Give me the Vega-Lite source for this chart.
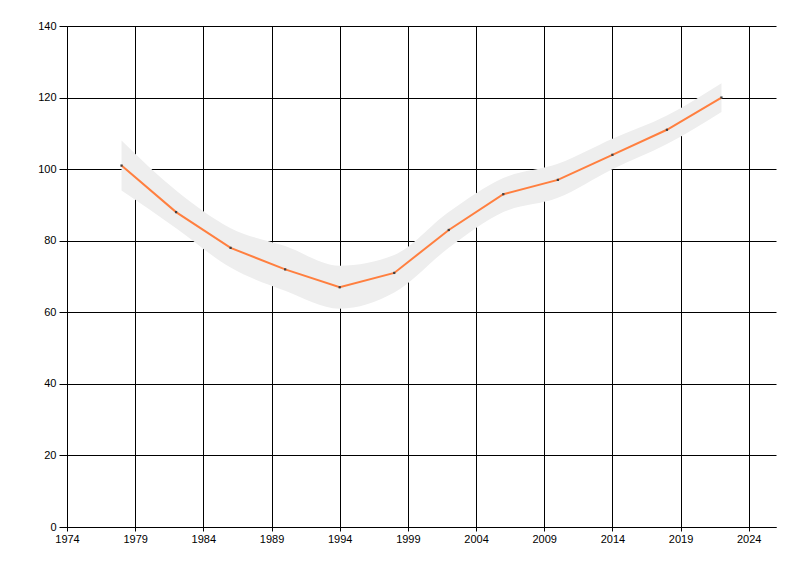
{
  "$schema": "https://vega.github.io/schema/vega-lite/v6.json",
  "autosize": {"type": "none"},
  "padding": {"left": 67, "top": 26, "right": 24, "bottom": 49},
  "width": 709,
  "height": 501,
  "background": "white",
  "config": {
    "view": {"stroke": null},
    "axis": {
      "labelFont": "Liberation Sans",
      "labelFontSize": 11,
      "labelColor": "#000000",
      "domainColor": "#000000",
      "tickColor": "#000000",
      "gridColor": "#000000",
      "gridOpacity": 1,
      "gridWidth": 1,
      "domainWidth": 1,
      "tickWidth": 1,
      "title": null
    }
  },
  "data": {
    "values": [
      {"year": 1978, "value": 101, "lower": 94, "upper": 108},
      {"year": 1982, "value": 88, "lower": 83.5, "upper": 94},
      {"year": 1986, "value": 78, "lower": 72.5, "upper": 83.5},
      {"year": 1990, "value": 72, "lower": 66, "upper": 78.5},
      {"year": 1994, "value": 67, "lower": 61, "upper": 73},
      {"year": 1998, "value": 71, "lower": 65.5, "upper": 76},
      {"year": 2002, "value": 83, "lower": 78, "upper": 88},
      {"year": 2006, "value": 93, "lower": 88, "upper": 97.5},
      {"year": 2010, "value": 97, "lower": 92, "upper": 101.5},
      {"year": 2014, "value": 104, "lower": 100, "upper": 108.5},
      {"year": 2018, "value": 111, "lower": 107, "upper": 115},
      {"year": 2022, "value": 120, "lower": 116, "upper": 124}
    ]
  },
  "encoding": {
    "x": {
      "field": "year",
      "type": "quantitative",
      "scale": {"domain": [1974, 2026], "nice": false, "zero": false},
      "axis": {
        "values": [1974, 1979, 1984, 1989, 1994, 1999, 2004, 2009, 2014, 2019, 2024],
        "format": "d",
        "grid": true,
        "tickSize": 4,
        "labelPadding": 2,
        "labelFlush": false,
        "labelOverlap": false
      }
    }
  },
  "layer": [
    {
      "mark": {"type": "area", "color": "#eeeeee", "opacity": 1, "interpolate": "monotone"},
      "encoding": {
        "y": {
          "field": "lower",
          "type": "quantitative",
          "scale": {"domain": [0, 140], "nice": false},
          "axis": {
            "values": [0, 20, 40, 60, 80, 100, 120, 140],
            "grid": true,
            "tickSize": 8,
            "labelPadding": 3,
            "labelFlush": false,
            "labelOverlap": false
          }
        },
        "y2": {"field": "upper"}
      }
    },
    {
      "mark": {"type": "line", "color": "#ff7f3f", "strokeWidth": 2},
      "encoding": {"y": {"field": "value", "type": "quantitative"}}
    },
    {
      "mark": {"type": "point", "shape": "square", "filled": true, "color": "#404040", "size": 5, "opacity": 1},
      "encoding": {"y": {"field": "value", "type": "quantitative"}}
    }
  ]
}
